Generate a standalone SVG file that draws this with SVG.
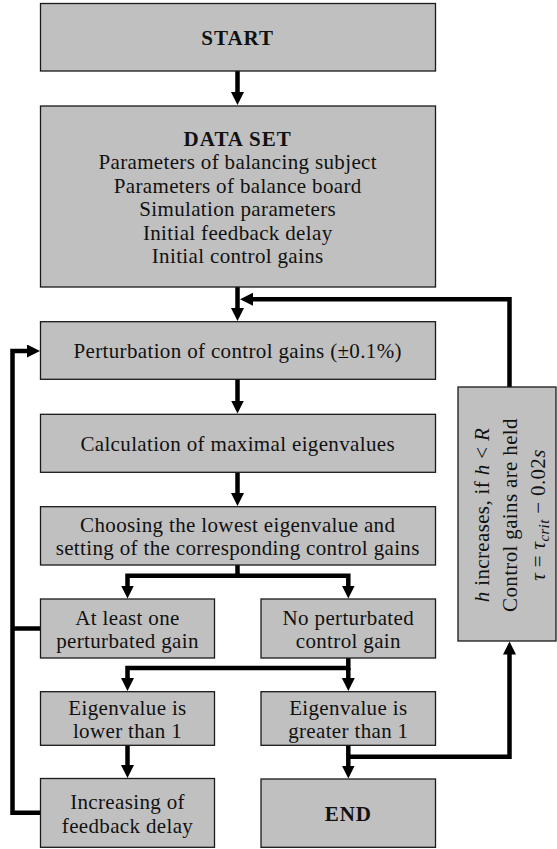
<svg xmlns="http://www.w3.org/2000/svg" width="557" height="849" viewBox="0 0 557 849">
<style>
.box{fill:#c0c0c0;stroke:#1a1a1a;stroke-width:1.3}
.t{font-family:"Liberation Serif","Times New Roman",serif;font-size:21px;letter-spacing:0.35px;fill:#111;text-anchor:middle}
.b{font-weight:bold;letter-spacing:1px}
.i{font-style:italic}
.c{fill:none;stroke:#000;stroke-width:4.5;stroke-linejoin:miter}
</style>
<defs>
<marker id="ah" markerUnits="userSpaceOnUse" markerWidth="14" markerHeight="14" refX="5" refY="6.5" orient="auto">
<path d="M0,0 L13,6.5 L0,13 z" fill="#000"/>
</marker>
</defs>
<rect width="557" height="849" fill="#fff"/>
<g id="connectors">
<path class="c" d="M237.5,71 V97" marker-end="url(#ah)"/>
<path class="c" d="M237.5,287 V313" marker-end="url(#ah)"/>
<path class="c" d="M509.5,387 V299.3 H248" marker-end="url(#ah)"/>
<path class="c" d="M237.5,379 V405.5" marker-end="url(#ah)"/>
<path class="c" d="M237.5,472 V498" marker-end="url(#ah)"/>
<path class="c" d="M237.5,565 V575.7 H127.5 V590.5" marker-end="url(#ah)"/>
<path class="c" d="M237.5,575.7 H348.3 V590.5" marker-end="url(#ah)"/>
<path class="c" d="M40,812.7 H12.5 V351 H32" marker-end="url(#ah)"/>
<path class="c" d="M40,628.5 H12.5"/>
<path class="c" d="M348.3,658 V668 H127.5 V683" marker-end="url(#ah)"/>
<path class="c" d="M348.3,668 V683" marker-end="url(#ah)"/>
<path class="c" d="M127.5,745 V770" marker-end="url(#ah)"/>
<path class="c" d="M348.3,745 V770.5" marker-end="url(#ah)"/>
<path class="c" d="M348.3,756.7 H509.5 V649.5" marker-end="url(#ah)"/>
</g>
<g id="start">
<rect class="box" x="40.5" y="3.5" width="395" height="67.5"/>
<text class="t b" x="237.7" y="45">START</text>
</g>
<g id="dataset">
<rect class="box" x="40.5" y="106" width="395" height="181"/>
<text class="t b" x="237.7" y="146">DATA SET</text>
<text class="t" x="237.7" y="169.4">Parameters of balancing subject</text>
<text class="t" x="237.7" y="192.8">Parameters of balance board</text>
<text class="t" x="237.7" y="216.2">Simulation parameters</text>
<text class="t" x="237.7" y="239.6">Initial feedback delay</text>
<text class="t" x="237.7" y="263">Initial control gains</text>
</g>
<g id="perturbation">
<rect class="box" x="40.5" y="321.7" width="395" height="57.6"/>
<text class="t" x="237.7" y="358.3">Perturbation of control gains (±0.1%)</text>
</g>
<g id="calculation">
<rect class="box" x="40.5" y="414.3" width="395" height="58"/>
<text class="t" x="237.7" y="451">Calculation of maximal eigenvalues</text>
</g>
<g id="choosing">
<rect class="box" x="40.5" y="506.7" width="395" height="58.3"/>
<text class="t" x="237.7" y="532">Choosing the lowest eigenvalue and</text>
<text class="t" x="237.7" y="555.3">setting of the corresponding control gains</text>
</g>
<g id="atleast">
<rect class="box" x="40.5" y="599" width="174" height="59"/>
<text class="t" x="127.5" y="625">At least one</text>
<text class="t" x="127.5" y="648.3">perturbated gain</text>
</g>
<g id="noperturbated">
<rect class="box" x="261" y="599" width="174.5" height="59"/>
<text class="t" x="348.3" y="625">No perturbated</text>
<text class="t" x="348.3" y="648.3">control gain</text>
</g>
<g id="eiglower">
<rect class="box" x="40.5" y="691.7" width="174" height="53.6"/>
<text class="t" x="127.5" y="715">Eigenvalue is</text>
<text class="t" x="127.5" y="738.3">lower than 1</text>
</g>
<g id="eiggreater">
<rect class="box" x="261" y="691.7" width="174.5" height="53.6"/>
<text class="t" x="348.3" y="715">Eigenvalue is</text>
<text class="t" x="348.3" y="738.3">greater than 1</text>
</g>
<g id="increasing">
<rect class="box" x="40.5" y="778.5" width="174" height="68.8"/>
<text class="t" x="127.5" y="809">Increasing of</text>
<text class="t" x="127.5" y="832.5">feedback delay</text>
</g>
<g id="end">
<rect class="box" x="261" y="779" width="174.5" height="68.3"/>
<text class="t b" x="348.3" y="821">END</text>
</g>
<g id="side">
<rect class="box" x="458" y="387" width="98" height="254"/>
<text class="t" transform="translate(489,515) rotate(-90)"><tspan class="i">h</tspan> increases, if <tspan class="i">h</tspan> &lt; <tspan class="i">R</tspan></text>
<text class="t" transform="translate(517,515) rotate(-90)">Control gains are held</text>
<text class="t" transform="translate(545,515) rotate(-90)"><tspan class="i">τ</tspan> = <tspan class="i">τ</tspan><tspan class="i" font-size="15" dy="4">crit</tspan><tspan dy="-4"> − 0.02</tspan><tspan class="i">s</tspan></text>
</g>
</svg>
